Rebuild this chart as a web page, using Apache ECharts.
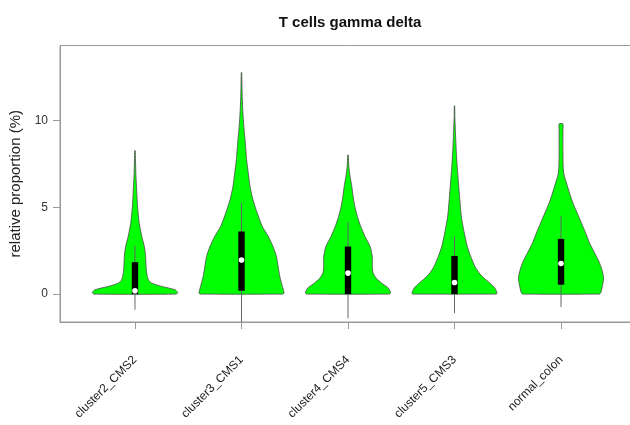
<!DOCTYPE html>
<html>
<head>
<meta charset="utf-8">
<script src="https://cdn.jsdelivr.net/npm/echarts@6/dist/echarts.min.js"></script>
<style>html,body{margin:0;padding:0;background:#fff;}#c{width:630px;height:425px;}</style>
</head>
<body>
<div id="c"></div>
<script>
// ---- data ----
var categories = ['cluster2_CMS2', 'cluster3_CMS1', 'cluster4_CMS4', 'cluster5_CMS3', 'normal_colon'];
var yTicks = [0, 5, 10];
var xTicks = [1, 2, 3, 4, 5];

// density profiles: value levels and relative half-width (1 = widest)
var c2Levels = [0, 0.1, 0.25, 0.44, 0.63, 0.8, 1.01, 1.3, 1.59, 2.17, 2.74, 3.32, 4.09, 5.05, 6.0, 6.97, 8.27];
var c2Width  = [0.97, 1.0, 0.94, 0.63, 0.39, 0.32, 0.29, 0.27, 0.26, 0.25, 0.22, 0.16, 0.10, 0.06, 0.04, 0.02, 0.005];
var c3Levels = [0, 0.06, 0.44, 1.01, 1.59, 2.17, 2.74, 3.32, 3.89, 4.67, 5.43, 6.2, 6.97, 7.74, 8.7, 9.65, 10.6, 11.6, 12.77];
var c3Width  = [0.97, 1.0, 0.96, 0.90, 0.86, 0.82, 0.74, 0.63, 0.49, 0.37, 0.27, 0.20, 0.16, 0.12, 0.09, 0.055, 0.03, 0.015, 0.005];
var c4Levels = [0, 0.06, 0.34, 0.63, 0.92, 1.21, 1.59, 2.17, 2.74, 3.32, 3.89, 4.47, 5.05, 5.62, 6.2, 6.77, 7.35, 8.02];
var c4Width  = [0.96, 1.0, 0.95, 0.79, 0.66, 0.59, 0.57, 0.57, 0.52, 0.40, 0.30, 0.22, 0.16, 0.12, 0.09, 0.05, 0.02, 0.005];
var c5Levels = [0, 0.04, 0.34, 0.63, 0.92, 1.21, 1.59, 2.17, 2.74, 3.51, 4.47, 5.43, 6.39, 7.35, 8.31, 9.27, 10.23, 10.85];
var c5Width  = [0.97, 1.0, 0.95, 0.83, 0.69, 0.58, 0.48, 0.38, 0.30, 0.23, 0.16, 0.125, 0.094, 0.063, 0.04, 0.023, 0.008, 0.004];
var ncLevels = [0, 0.06, 0.44, 0.92, 1.4, 1.88, 2.36, 2.94, 3.51, 4.09, 4.67, 5.24, 5.82, 6.39, 6.87, 7.35, 8.31, 9.46, 9.81];
var ncWidth  = [0.90, 0.93, 0.97, 1.0, 0.96, 0.89, 0.79, 0.67, 0.58, 0.48, 0.38, 0.28, 0.20, 0.13, 0.07, 0.05, 0.045, 0.045, 0.045];

// box plot statistics
var q1Values     = [0, 0.19, 0, 0, 0.54];
var medianValues = [0.19, 1.96, 1.21, 0.67, 1.76];
var q3Values     = [1.84, 3.61, 2.74, 2.2, 3.18];
var whiskerLow   = [-0.9, -1.6, -1.4, -1.1, -0.75];
var whiskerHigh  = [2.78, 5.28, 4.15, 3.32, 4.51];

var levels = [c2Levels, c3Levels, c4Levels, c5Levels, ncLevels];
var widths = [c2Width, c3Width, c4Width, c5Width, ncWidth];

// ---- chart ----
var VIOLIN_HALF = 0.4;   // max half width in category units
var BOX_HALF = 0.03;

var chart = echarts.init(document.getElementById('c'));

function renderViolin(params, api) {
  var i = api.value(0);
  var xc = i + 1;
  var lv = levels[i], wd = widths[i];
  var left = [], right = [];
  for (var k = 0; k < lv.length; k++) {
    left.push(api.coord([xc - VIOLIN_HALF * wd[k], lv[k]]));
  }
  for (var k = lv.length - 1; k >= 0; k--) {
    right.push(api.coord([xc + VIOLIN_HALF * wd[k], lv[k]]));
  }
  var pts = left.concat(right);
  var lo = api.coord([xc, whiskerLow[i]]);
  var hi = api.coord([xc, whiskerHigh[i]]);
  var b1 = api.coord([xc - BOX_HALF, q3Values[i]]);
  var b2 = api.coord([xc + BOX_HALF, q1Values[i]]);
  var md = api.coord([xc, medianValues[i]]);
  return {
    type: 'group',
    children: [
      { type: 'polygon', shape: { points: pts, smooth: 0.2 },
        style: { fill: '#00ff00', stroke: '#4a4a4a', lineWidth: 0.8 } },
      { type: 'line', shape: { x1: lo[0], y1: lo[1], x2: hi[0], y2: hi[1] },
        style: { stroke: '#666', lineWidth: 1 } },
      { type: 'rect', shape: { x: b1[0], y: b1[1], width: b2[0] - b1[0], height: b2[1] - b1[1] },
        style: { fill: '#000' } },
      { type: 'circle', shape: { cx: md[0], cy: md[1], r: 2.8 },
        style: { fill: '#fff' } }
    ]
  };
}

chart.setOption({
  animation: false,
  backgroundColor: '#fff',
  title: {
    text: 'T cells gamma delta',
    left: 345, top: 10, textAlign: 'center',
    textStyle: { fontFamily: 'Liberation Sans, Arial, sans-serif', fontWeight: 'bold', fontSize: 15, color: '#111' }
  },
  grid: {
    left: 60, top: 45.5, width: 576, height: 276.5,
    outerBoundsMode: 'none', containLabel: false,
    show: true, borderColor: '#999', borderWidth: 1, backgroundColor: 'transparent'
  },
  xAxis: {
    type: 'value', min: 0.296, max: 5.704, position: 'bottom',
    splitLine: { show: false },
    axisLine: { show: true, onZero: false, lineStyle: { color: '#999' } },
    axisTick: { show: true, length: 7, customValues: xTicks, lineStyle: { color: '#999' } },
    axisLabel: {
      customValues: xTicks,
      rotate: 45, margin: 36, fontSize: 12, color: '#222',
      fontFamily: 'Liberation Sans, Arial, sans-serif',
      formatter: function (v) { return categories[Math.round(v) - 1]; }
    }
  },
  yAxis: {
    type: 'value', min: -1.61, max: 14.33, position: 'left',
    name: 'relative proportion (%)', nameLocation: 'middle', nameGap: 36,
    nameTextStyle: { fontFamily: 'Liberation Sans, Arial, sans-serif', fontSize: 15, color: '#222' },
    splitLine: { show: false },
    axisLine: { show: true, onZero: false, lineStyle: { color: '#999' } },
    axisTick: { show: true, length: 7, customValues: yTicks, lineStyle: { color: '#999' } },
    axisLabel: { customValues: yTicks, margin: 12, fontSize: 12, color: '#333',
      fontFamily: 'Liberation Sans, Arial, sans-serif' }
  },
  series: [{
    type: 'custom',
    clip: false,
    renderItem: renderViolin,
    encode: { x: 0 },
    data: categories.map(function (c, i) { return [i]; })
  }]
});
</script>
</body>
</html>
